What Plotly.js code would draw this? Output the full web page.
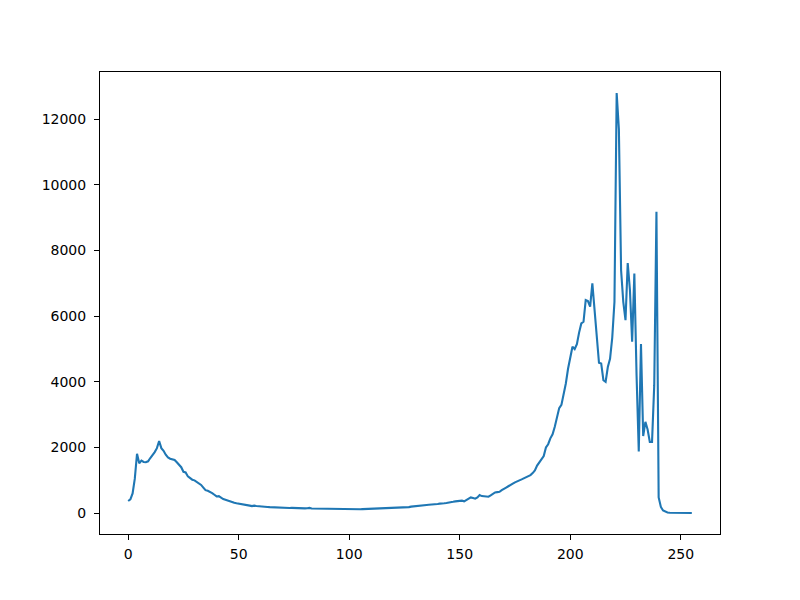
<!DOCTYPE html>
<html>
<head>
<meta charset="utf-8">
<script src="https://cdn.plot.ly/plotly-3.0.1.min.js"></script>
<style>html,body{margin:0;padding:0;background:#fff;}#chart{width:800px;height:600px;}</style>
</head>
<body>
<div id="chart"></div>
<script>
// Histogram counts for intensity levels 0..255
const counts = [
  370, 420, 600, 1050, 1810, 1520, 1600, 1560, 1550, 1580,
  1680, 1760, 1860, 1980, 2200, 1980, 1900, 1780, 1700, 1660,
  1640, 1620, 1550, 1480, 1400, 1260, 1240, 1120, 1060, 1020,
  1000, 960, 910, 860, 780, 700, 680, 650, 610, 560,
  510, 520, 470, 430, 410, 380, 350, 330, 315, 300,
  290, 280, 275, 270, 255, 230, 215, 230, 220, 210,
  200, 195, 190, 190, 185, 180, 178, 175, 170, 168,
  165, 162, 160, 158, 160, 155, 150, 150, 148, 145,
  145, 150, 160, 140, 138, 140, 135, 132, 130, 132,
  128, 125, 125, 122, 120, 120, 122, 118, 116, 115,
  125, 110, 115, 118, 120, 120, 122, 125, 122, 128,
  130, 128, 130, 135, 132, 138, 140, 142, 145, 150,
  155, 158, 165, 160, 180, 175, 190, 185, 200, 210,
  215, 220, 230, 240, 245, 250, 255, 260, 250, 270,
  280, 290, 285, 300, 310, 315, 330, 345, 360, 365,
  375, 380, 360, 400, 420, 480, 460, 440, 480, 550,
  520, 510, 505, 500, 540, 600, 630, 640, 650, 700,
  730, 780, 820, 850, 900, 940, 960, 1000, 1030, 1060,
  1090, 1130, 1160, 1220, 1300, 1450, 1560, 1650, 1740, 2000,
  2100, 2280, 2400, 2630, 2940, 3200, 3300, 3600, 3950, 4400,
  4700, 5070, 5000, 5150, 5500, 5780, 5830, 6490, 6460, 6290,
  7000, 6200, 5400, 4580, 4560, 4050, 4000, 4450, 4700, 5350,
  6440, 12800, 11700, 7400, 6430, 5880, 7620, 6800, 5220, 7300,
  4200, 1880, 5150, 2350, 2780, 2550, 2170, 2170, 3900, 9180,
  480, 190, 80, 40, 20, 12, 10, 8, 8, 7,
  6, 6, 5, 5, 5, 5
];
const levels = counts.map((_, i) => i);
const xTicks = [0, 50, 100, 150, 200, 250];
const yTicks = [0, 2000, 4000, 6000, 8000, 10000, 12000];

const xmin = 0, xmax = levels.length - 1;
const xpad = (xmax - xmin) * 0.05;
const ymin = Math.min(...counts), ymax = Math.max(...counts);
const ypad = (ymax - ymin) * 0.05;

const axisCommon = {
  showgrid: false, zeroline: false,
  showline: true, mirror: true, linecolor: '#000', linewidth: 1,
  ticks: 'outside', ticklen: 5, tickwidth: 1, tickcolor: '#000',
  tickfont: {family: 'DejaVu Sans', size: 14, color: '#000'}
};

Plotly.newPlot('chart', [{
  x: levels, y: counts, type: 'scatter', mode: 'lines',
  line: {color: '#1f77b4', width: 2.1}
}], {
  width: 800, height: 600,
  margin: {l: 100, r: 80, t: 72, b: 66},
  paper_bgcolor: '#fff', plot_bgcolor: '#fff',
  showlegend: false,
  xaxis: Object.assign({}, axisCommon, {range: [xmin - xpad, xmax + xpad], tickvals: xTicks, ticktext: xTicks.map(String), ticklabelstandoff: 2}),
  yaxis: Object.assign({}, axisCommon, {range: [ymin - ypad, ymax + ypad], tickvals: yTicks, ticktext: yTicks.map(String), ticklabelstandoff: 5})
}, {staticPlot: true});
</script>
</body>
</html>
